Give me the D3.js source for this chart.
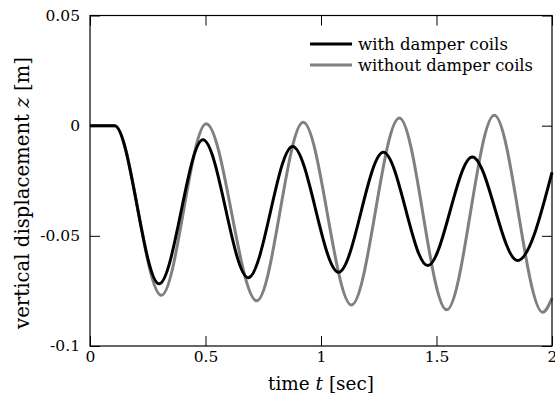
<!DOCTYPE html>
<html>
<head>
<meta charset="utf-8">
<script src="https://cdn.jsdelivr.net/npm/d3@7"></script>
<style>
  body { margin: 0; background: #fff; }
</style>
</head>
<body>
<svg id="chart"></svg>
<script>
// time axis [sec] and displacement [m]
const damperTime  = [0, 0.107, 0.299, 0.489, 0.685, 0.877, 1.076, 1.270, 1.462, 1.655, 1.851, 2.0];
const damperZ     = [0, 0, -0.0718, -0.0064, -0.0690, -0.0094, -0.0665, -0.0121, -0.0635, -0.0142, -0.0612, -0.0212];
const noDamperTime = [0, 0.107, 0.309, 0.503, 0.722, 0.923, 1.132, 1.339, 1.544, 1.750, 1.960, 2.0];
const noDamperZ    = [0, 0, -0.0770, 0.0009, -0.0795, 0.0015, -0.0814, 0.0035, -0.0836, 0.0047, -0.0847, -0.0783];

const xTicks = [0, 0.5, 1, 1.5, 2];
const xTickLabels = ["0", "0.5", "1", "1.5", "2"];
const yTicks = [0.05, 0, -0.05, -0.1];
const yTickLabels = ["0.05", "0", "-0.05", "-0.1"];

const seriesNames = ["with damper coils", "without damper coils"];
const seriesColors = ["#000000", "#808080"];

// --- setup ---
const width = 555, height = 408;
const marginTop = 15.5, marginRight = 3, marginBottom = 62, marginLeft = 90;
const serif = "DejaVu Serif"; // the only serif face that resolves here

const svg = d3.select("#chart")
    .attr("width", width)
    .attr("height", height)
    .attr("font-family", serif);

const x = d3.scaleLinear().domain([0, 2]).range([marginLeft, width - marginRight]);
const y = d3.scaleLinear().domain([-0.1, 0.05]).range([height - marginBottom, marginTop]);

const tickLen = 10;
const tickFont = 15.5;

// shrink a text so its width matches the reference (DejaVu is wider than Times)
function fitWidth(sel, target) {
    sel.attr("font-size", 20);
    const w = sel.node().getComputedTextLength();
    sel.attr("font-size", 20 * target / w);
}

// --- lines ---
const line = d3.line()
    .x(d => x(d[0]))
    .y(d => y(d[1]))
    .curve(d3.curveMonotoneX);

const series = [
    d3.zip(damperTime, damperZ),
    d3.zip(noDamperTime, noDamperZ)
];

const plot = svg.append("g");
// gray first so the black curve sits on top
[1, 0].forEach(i => {
    plot.append("path")
        .datum(series[i])
        .attr("fill", "none")
        .attr("stroke", seriesColors[i])
        .attr("stroke-width", 3)
        .attr("stroke-linejoin", "round")
        .attr("d", line);
});

// --- axes (ticks inside on all four sides) ---
const fmtX = d => xTickLabels[xTicks.indexOf(d)];
const fmtY = d => yTickLabels[yTicks.indexOf(d)];

svg.append("g")
    .attr("transform", `translate(0,${y(-0.1)})`)
    .call(d3.axisBottom(x).tickValues(xTicks).tickFormat(fmtX).tickSizeInner(-tickLen).tickSizeOuter(0).tickPadding(5))
    .call(g => g.select(".domain").remove());

svg.append("g")
    .attr("transform", `translate(0,${y(0.05)})`)
    .call(d3.axisTop(x).tickValues(xTicks).tickFormat("").tickSizeInner(-tickLen).tickSizeOuter(0))
    .call(g => g.select(".domain").remove());

svg.append("g")
    .attr("transform", `translate(${x(0)},0)`)
    .call(d3.axisLeft(y).tickValues(yTicks).tickFormat(fmtY).tickSizeInner(-tickLen).tickSizeOuter(0).tickPadding(10))
    .call(g => g.select(".domain").remove());

svg.append("g")
    .attr("transform", `translate(${x(2)},0)`)
    .call(d3.axisRight(y).tickValues(yTicks).tickFormat("").tickSizeInner(-tickLen).tickSizeOuter(0))
    .call(g => g.select(".domain").remove());

svg.selectAll(".tick text")
    .attr("font-family", serif)
    .attr("font-size", tickFont)
    .attr("fill", "#000");
svg.selectAll(".tick line").attr("stroke", "#000");

// frame
svg.append("rect")
    .attr("x", x(0))
    .attr("y", y(0.05))
    .attr("width", x(2) - x(0))
    .attr("height", y(-0.1) - y(0.05))
    .attr("fill", "none")
    .attr("stroke", "#000")
    .attr("stroke-width", 1.2);

// --- axis titles ---
const xTitle = svg.append("text")
    .attr("x", (x(0) + x(2)) / 2)
    .attr("y", 390)
    .attr("text-anchor", "middle");
xTitle.append("tspan").text("time ");
xTitle.append("tspan").attr("font-style", "italic").text("t");
xTitle.append("tspan").text(" [sec]");
fitWidth(xTitle, 106);

const yTitle = svg.append("text")
    .attr("transform", "translate(29,193) rotate(-90)")
    .attr("text-anchor", "middle");
yTitle.append("tspan").text("vertical displacement ");
yTitle.append("tspan").attr("font-style", "italic").text("z");
yTitle.append("tspan").text(" [m]");
fitWidth(yTitle, 272);

// --- legend ---
const legendWidths = [150, 175];
const legend = svg.append("g").attr("transform", "translate(310,44)");
seriesNames.forEach((name, i) => {
    const row = legend.append("g").attr("transform", `translate(0,${i * 21})`);
    row.append("line")
        .attr("x1", 0).attr("x2", 42)
        .attr("stroke", seriesColors[i])
        .attr("stroke-width", 3);
    const t = row.append("text")
        .attr("x", 48)
        .attr("dy", "0.35em")
        .text(name);
    fitWidth(t, legendWidths[i]);
});
</script>
</body>
</html>
